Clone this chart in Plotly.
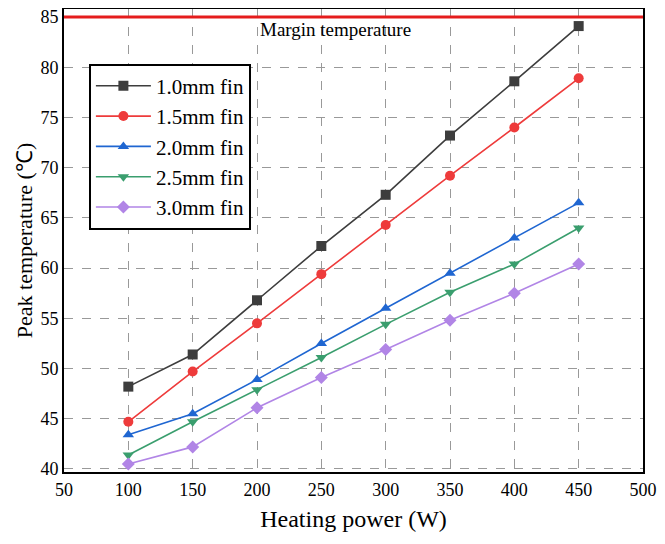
import plotly.graph_objects as go

power = [100, 150, 200, 250, 300, 350, 400, 450]
series_names = ["1.0mm fin", "1.5mm fin", "2.0mm fin", "2.5mm fin", "3.0mm fin"]
fin_10 = [48.2, 51.4, 56.8, 62.2, 67.3, 73.2, 78.6, 84.1]
fin_15 = [44.7, 49.7, 54.5, 59.4, 64.3, 69.2, 74.0, 78.9]
fin_20 = [43.4, 45.5, 48.9, 52.5, 56.0, 59.5, 63.0, 66.5]
fin_25 = [41.4, 44.7, 47.9, 51.1, 54.4, 57.6, 60.4, 64.0]
fin_30 = [40.5, 42.2, 46.1, 49.1, 51.9, 54.8, 57.5, 60.4]
margin_temp = 85
x_ticks = [50, 100, 150, 200, 250, 300, 350, 400, 450, 500]
y_ticks = [40, 45, 50, 55, 60, 65, 70, 75, 80, 85]

colors = ["#3d3d3d", "#ee3b3b", "#1f66d1", "#3a9e6e", "#b185e6"]
symbols = ["square", "circle", "triangle-up", "triangle-down", "diamond"]
data = [fin_10, fin_15, fin_20, fin_25, fin_30]

FONT = "Liberation Serif, Times New Roman, serif"

fig = go.Figure()
fig.add_trace(go.Scatter(
    x=[50, 500], y=[margin_temp, margin_temp], mode="lines",
    line=dict(color="#e51c1c", width=3), showlegend=False, hoverinfo="skip"))
for name, ys, c, s in zip(series_names, data, colors, symbols):
    fig.add_trace(go.Scatter(
        x=power, y=ys, name=name, mode="lines+markers",
        line=dict(color=c, width=1.6),
        marker=dict(symbol=s, size=10, color=c)))

fig.add_annotation(x=200, y=margin_temp, xref="x", yref="y", text="Margin temperature",
                   showarrow=False, xanchor="left", yanchor="top", xshift=1, yshift=0,
                   font=dict(family=FONT, size=19, color="black"))

axis_common = dict(
    showline=True, linecolor="black", linewidth=2, mirror=True,
    showgrid=True, gridcolor="#999999", griddash="dash", gridwidth=1,
    ticks="", zeroline=False, automargin=False, ticklabeloverflow="allow",
    tickfont=dict(family=FONT, size=18, color="black"),
)

fig.update_layout(
    width=649, height=528,
    margin=dict(l=56, r=14, t=1, b=64),
    paper_bgcolor="white", plot_bgcolor="white",
    font=dict(family=FONT, color="black"),
    xaxis=dict(range=[50, 500], tickvals=x_ticks,
               title=dict(text="Heating power (W)", font=dict(family=FONT, size=24), standoff=12),
               **axis_common),
    yaxis=dict(range=[39.7, 85.8], tickvals=y_ticks,
               title=dict(text="Peak temperature (℃)", font=dict(family=FONT, size=22), standoff=2),
               **axis_common),
    legend=dict(x=0.043, y=0.882, xanchor="left", yanchor="top",
                bgcolor="white", bordercolor="black", borderwidth=2,
                font=dict(family=FONT, size=21, color="black"),
                tracegroupgap=0, itemwidth=55),
    showlegend=True,
)

fig.write_html("out.html")
